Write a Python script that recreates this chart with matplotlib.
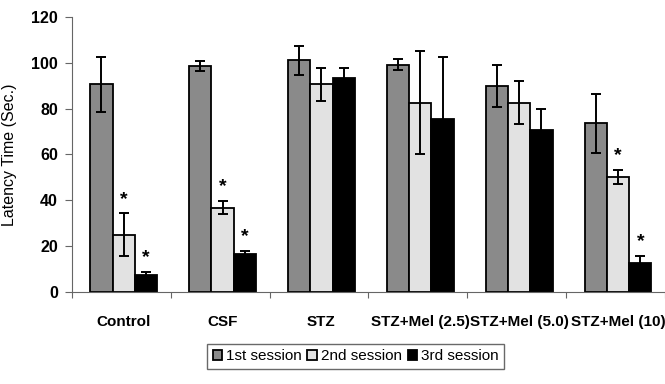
import matplotlib
matplotlib.use("Agg")
import matplotlib.pyplot as plt
import numpy as np

# Daten
gruppen = ["Control", "CSF", "STZ", "STZ+Mel (2.5)", "STZ+Mel (5.0)", "STZ+Mel (10)"]
sitzung1 = [90.5, 98.5, 101.1, 99.2, 89.9, 73.5]
sitzung2 = [24.9, 36.8, 90.5, 82.6, 82.6, 50.0]
sitzung3 = [7.4, 16.4, 93.4, 75.5, 70.5, 12.7]
fehler1 = [12.0, 2.2, 6.4, 2.3, 9.3, 13.0]
fehler2 = [9.3, 2.8, 7.1, 22.4, 9.3, 3.1]
fehler3 = [1.2, 1.5, 4.2, 26.8, 9.5, 3.0]
# Sterne (Signifikanz): (Gruppe, Sitzung)
sterne = [(0, 1), (0, 2), (1, 1), (1, 2), (5, 1), (5, 2)]

plt.rcParams['font.family'] = ['Liberation Sans', 'DejaVu Sans']

fig = plt.figure(figsize=(6.65, 3.84), dpi=100)
ax = fig.add_axes([0.108, 0.24, 0.892, 0.716])

x = np.arange(len(gruppen))
breite = 0.225
farben = ['#8a8a8a', '#e2e2e2', '#000000']
labels = ['1st session', '2nd session', '3rd session']
werte = [sitzung1, sitzung2, sitzung3]
fehler = [fehler1, fehler2, fehler3]

for k in range(3):
    pos = x + (k - 1) * breite + 0.025
    ax.bar(pos, werte[k], breite, color=farben[k], edgecolor='black', linewidth=1.3,
           label=labels[k], zorder=2)
    ax.errorbar(pos, werte[k], yerr=fehler[k], fmt='none', ecolor='black',
                elinewidth=1.4, capsize=3.5, capthick=1.4, zorder=3)

for g, s in sterne:
    pos = x[g] + (s - 1) * breite + 0.025
    y = werte[s][g] + fehler[s][g] + 2.5
    ax.text(pos, y, '*', ha='center', va='bottom', fontsize=14, fontweight='bold')

ax.set_xlim(-0.5, 5.5)
ax.set_ylim(0, 120)
ax.set_yticks(range(0, 121, 20))
ax.set_yticklabels([str(v) for v in range(0, 121, 20)], fontsize=11.5, fontweight='bold')
ax.set_xticks(np.arange(-0.5, 5.6, 1.0))
ax.set_xticklabels([])
ax.tick_params(axis='x', direction='out', length=4, color='#666666')
ax.tick_params(axis='y', direction='out', length=5, color='#666666', pad=5)
for i, name in enumerate(gruppen):
    ax.text(i + 0.025, -10, name, ha='center', va='top', fontsize=11, fontweight='bold',
            transform=ax.transData, clip_on=False)

ax.spines['top'].set_visible(False)
ax.spines['right'].set_visible(False)
ax.spines['left'].set_color('#666666')
ax.spines['bottom'].set_color('#666666')

ax.set_ylabel('Latency Time (Sec.)', fontsize=11.5, labelpad=10)

fig.legend(loc='center', bbox_to_anchor=(0.535, 0.072), ncol=3, fontsize=11,
           frameon=True, fancybox=False, edgecolor='#444444', handlelength=0.6,
           handleheight=0.7, handletextpad=0.3, columnspacing=0.35, borderpad=0.35)

fig.savefig('out.png', dpi=100)
